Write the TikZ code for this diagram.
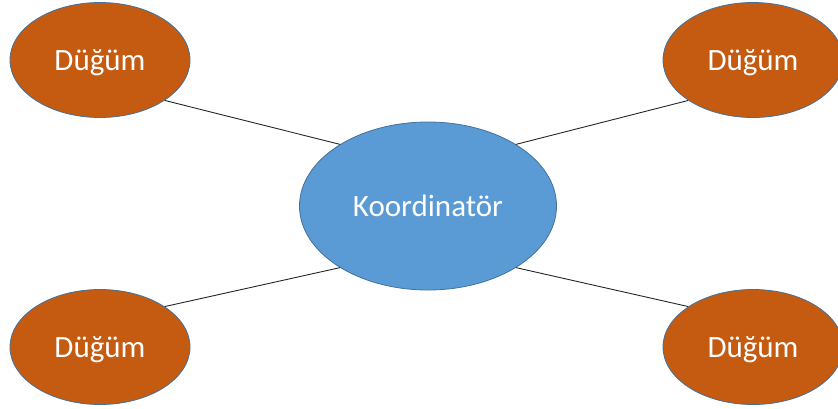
\documentclass[tikz,border=0pt]{standalone}
\usepackage{fontspec}
\setmainfont{Carlito}
\usetikzlibrary{shapes.geometric,positioning}
\definecolor{nodeorange}{HTML}{C55A11}
\definecolor{centerblue}{HTML}{5B9BD5}
\definecolor{edgeblue}{HTML}{41719C}
\tikzset{
  basenode/.style    = {shape=ellipse, draw=edgeblue, line width=0.8pt,
                        inner sep=0pt, text=white, text depth=0pt,
                        font=\fontsize{31}{36}\selectfont},
  koordinator/.style = {
    basenode,
    fill=centerblue,
    minimum width=257pt, minimum height=168pt
    },
  dugum/.style       = {
    basenode,
    fill=nodeorange,
    minimum width=180pt, minimum height=115pt
    },
  link/.style        = {draw=black!85, line width=0.9pt}
}
\begin{document}
\begin{tikzpicture}[x=1pt, y=-1pt]
    \useasboundingbox (0,0) rectangle (838,408);
    \node [koordinator] (merkez) at (428,206) {Koordinatör};
    \node [dugum] (solust) at (100,60)  {Düğüm};
    \node [dugum] (sagust) at (753,60)  {Düğüm};
    \node [dugum] (solalt) at (100,347) {Düğüm};
    \node [dugum] (sagalt) at (753,347) {Düğüm};
    \draw [link] (solust.-32) -- (merkez.145);
    \draw [link] (sagust.-148) -- (merkez.35);
    \draw [link] (solalt.32) -- (merkez.-145);
    \draw [link] (sagalt.148) -- (merkez.-35);
\end{tikzpicture}
\end{document}
